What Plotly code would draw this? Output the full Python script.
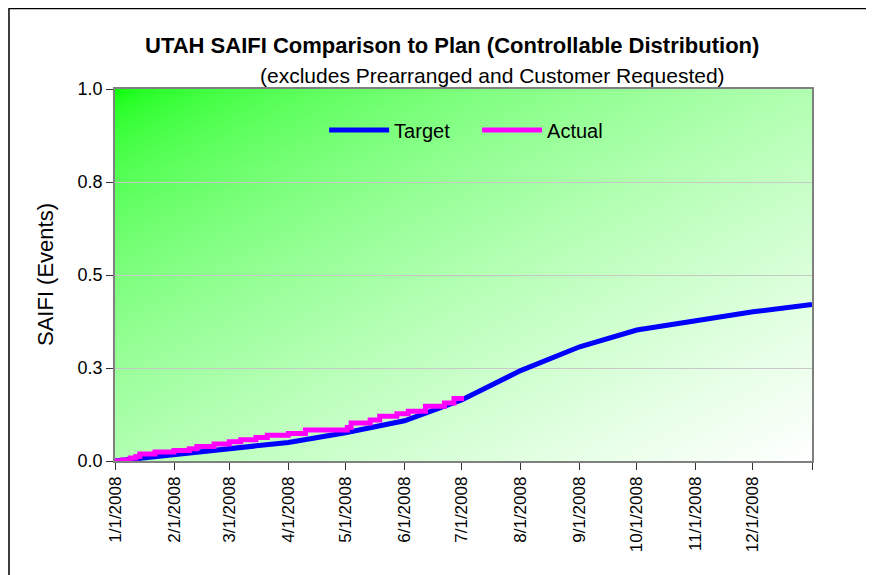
import base64, struct, zlib
import plotly.graph_objects as go

# ---- data ----
target_dates = ["2008-01-01", "2008-02-01", "2008-03-01", "2008-04-01", "2008-05-01",
                "2008-06-01", "2008-07-01", "2008-08-01", "2008-09-01", "2008-10-01",
                "2008-11-01", "2008-12-01", "2009-01-01"]
target_values = [0.0, 0.018, 0.034, 0.05, 0.076, 0.108, 0.164, 0.243, 0.307, 0.352,
                 0.377, 0.401, 0.421]

actual_dates = ["2008-01-01", "2008-01-05", "2008-01-09", "2008-01-12", "2008-01-14",
                "2008-01-22", "2008-02-01", "2008-02-09", "2008-02-13", "2008-02-22",
                "2008-03-01", "2008-03-07", "2008-03-15", "2008-03-21", "2008-04-01",
                "2008-04-10", "2008-05-02", "2008-05-04", "2008-05-14", "2008-05-19",
                "2008-05-28", "2008-06-03", "2008-06-12", "2008-06-22", "2008-06-27",
                "2008-07-01"]
actual_values = [0.0, 0.003, 0.008, 0.012, 0.019, 0.024, 0.028, 0.033, 0.039, 0.046,
                 0.052, 0.057, 0.063, 0.069, 0.074, 0.083, 0.09, 0.102, 0.11, 0.12,
                 0.127, 0.134, 0.147, 0.156, 0.168, 0.175]

x_tick_values = ["2008-01-01", "2008-02-01", "2008-03-01", "2008-04-01", "2008-05-01",
                 "2008-06-01", "2008-07-01", "2008-08-01", "2008-09-01", "2008-10-01",
                 "2008-11-01", "2008-12-01", "2009-01-01"]
x_tick_labels = ["1/1/2008", "2/1/2008", "3/1/2008", "4/1/2008", "5/1/2008", "6/1/2008",
                 "7/1/2008", "8/1/2008", "9/1/2008", "10/1/2008", "11/1/2008",
                 "12/1/2008", ""]
y_tick_values = [0.0, 0.25, 0.5, 0.75, 1.0]
y_tick_labels = ["0.0", "0.3", "0.5", "0.8", "1.0"]


# ---- background gradient image (green -> white diagonal) ----
def gradient_png(w, h):
    raw = bytearray()
    for j in range(h):
        raw.append(0)
        v = j / (h - 1)
        for i in range(w):
            u = i / (w - 1)
            t = (u + v) / 2.0
            f = t ** 0.55
            c = int(round(10 + 245 * f))
            raw += bytes((c, 255, c))
    def chunk(tag, data):
        return (struct.pack(">I", len(data)) + tag + data +
                struct.pack(">I", zlib.crc32(tag + data) & 0xffffffff))
    png = b"\x89PNG\r\n\x1a\n"
    png += chunk(b"IHDR", struct.pack(">IIBBBBB", w, h, 8, 2, 0, 0, 0))
    png += chunk(b"IDAT", zlib.compress(bytes(raw), 9))
    png += chunk(b"IEND", b"")
    return "data:image/png;base64," + base64.b64encode(png).decode()


FONT = "Liberation Sans, Arial, sans-serif"

fig = go.Figure()
fig.add_trace(go.Scatter(x=target_dates, y=target_values, mode="lines", name="Target",
                         line=dict(color="#0000ff", width=5)))
fig.add_trace(go.Scatter(x=actual_dates, y=actual_values, mode="lines", name="Actual",
                         line=dict(color="#ff00ff", width=5, shape="hv")))

fig.update_layout(
    width=866, height=567,
    margin=dict(l=107, r=62, t=81, b=114),
    paper_bgcolor="white",
    plot_bgcolor="rgba(0,0,0,0)",
    font=dict(family=FONT, color="black", size=17),
    showlegend=True,
    legend=dict(orientation="h", x=0.3, y=0.89, xanchor="left", yanchor="middle",
                bgcolor="rgba(0,0,0,0)", font=dict(size=20, family=FONT),
                itemwidth=60, entrywidth=78, entrywidthmode="pixels"),
    images=[dict(source=gradient_png(160, 90), xref="paper", yref="paper",
                 x=0, y=1, sizex=1, sizey=1, sizing="stretch", layer="below",
                 xanchor="left", yanchor="top")],
    xaxis=dict(type="date", range=["2008-01-01", "2009-01-01"],
               tickmode="array", tickvals=x_tick_values, ticktext=x_tick_labels,
               tickangle=-90, ticks="outside", ticklen=7, tickcolor="#333",
               showline=True, linecolor="#808080", linewidth=1.5, mirror=True,
               showgrid=False, zeroline=False,
               tickfont=dict(size=17, family=FONT)),
    yaxis=dict(range=[0, 1], tickmode="array", tickvals=y_tick_values,
               ticktext=y_tick_labels, ticks="outside", ticklen=7, tickcolor="#333",
               showline=True, linecolor="#808080", linewidth=1.5, mirror=True,
               showgrid=True, gridcolor="#c8c8c8", gridwidth=1, zeroline=False,
               tickfont=dict(size=18, family=FONT)),
    annotations=[
        dict(text="<b>UTAH SAIFI Comparison to Plan (Controllable Distribution)</b>",
             xref="paper", yref="paper", x=0.4835, y=1.1156, showarrow=False,
             xanchor="center", yanchor="middle", font=dict(size=22, family=FONT)),
        dict(text="(excludes Prearranged and Customer Requested)",
             xref="paper", yref="paper", x=0.542, y=1.035, showarrow=False,
             xanchor="center", yanchor="middle", font=dict(size=21, family=FONT)),
        dict(text="SAIFI (Events)", xref="paper", yref="paper", x=-0.1004, y=0.5,
             textangle=-90, showarrow=False, xanchor="center", yanchor="middle",
             font=dict(size=22, family=FONT)),
    ],
    shapes=[dict(type="rect", xref="paper", yref="paper",
                 x0=-0.1521, x1=1.12, y0=-0.35, y1=1.2164,
                 line=dict(color="black", width=1.5), fillcolor="rgba(0,0,0,0)",
                 layer="above")],
)

fig.write_html("out.html")
